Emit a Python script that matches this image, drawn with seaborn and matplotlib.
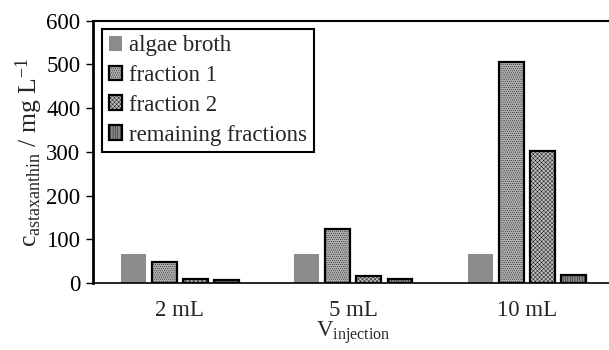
import matplotlib
matplotlib.use('Agg')
import matplotlib.pyplot as plt
import pandas as pd
import seaborn as sns

# values (mg/L)
volumes = ['2 mL', '5 mL', '10 mL']
series = ['algae broth', 'fraction 1', 'fraction 2', 'remaining fractions']
algae_broth = [66, 66, 66]
fraction_1 = [48, 123, 506]
fraction_2 = [9, 16, 303]
remaining = [8, 9, 18]

df = pd.DataFrame({
    'volume': volumes * 4,
    'series': [s for s in series for _ in volumes],
    'value': algae_broth + fraction_1 + fraction_2 + remaining,
})

sns.set_style('white')
plt.rcParams['font.family'] = ['Liberation Serif', 'DejaVu Serif']
plt.rcParams['mathtext.default'] = 'regular'
plt.rcParams['hatch.linewidth'] = 0.3

fig = plt.figure(figsize=(6.09, 3.5), dpi=100)
ax = fig.add_axes([0.1527, 0.1914, 0.855, 0.7495])

colors = ['#8c8c8c', '#b0b0b0', '#bdbdbd', '#8a8a8a']
sns.barplot(data=df, x='volume', y='value', hue='series', order=volumes,
            hue_order=series, palette=colors, width=0.716, gap=0.2,
            legend=False, ax=ax)

hatches = [None, '........', 'xxxxxxxx', '|||||||']
for i, cont in enumerate(ax.containers):
    for bar in cont:
        if i == 0:
            bar.set_edgecolor('none')
            bar.set_linewidth(0)
        else:
            bar.set_edgecolor('black')
            bar.set_linewidth(1.6)
            bar.set_hatch(hatches[i])

ax.set_xlim(-0.5, 2.5)
ax.set_ylim(0, 600)
ax.set_yticks(range(0, 601, 100))
ax.tick_params(axis='y', direction='out', length=5, width=1, left=True,
               labelsize=16.5, colors='black', pad=4)
ax.tick_params(axis='x', length=0, labelsize=16.5, pad=12)

ax.set_ylabel(r'c$_{astaxanthin}$ / mg L$^{-1}$', fontsize=18.5, labelpad=1)
ax.set_xlabel(r'V$_{injection}$', fontsize=16.5, labelpad=-1)

for side in ['top', 'left', 'bottom', 'right']:
    ax.spines[side].set_visible(True)
    ax.spines[side].set_color('black')
ax.spines['left'].set_linewidth(2)
ax.spines['bottom'].set_linewidth(1.2)
ax.spines['top'].set_linewidth(1.5)
ax.spines['right'].set_linewidth(1.5)

leg = ax.legend(ax.containers, series, loc='upper left',
                bbox_to_anchor=(0.017, 0.97), fontsize=16.5,
                frameon=True, fancybox=False, framealpha=1,
                handlelength=0.6, handleheight=0.6, handletextpad=0.3,
                labelspacing=0.38, borderpad=0.3, borderaxespad=0)
leg.get_frame().set_edgecolor('black')
leg.get_frame().set_linewidth(1.5)

fig.savefig('out.png', dpi=100)
